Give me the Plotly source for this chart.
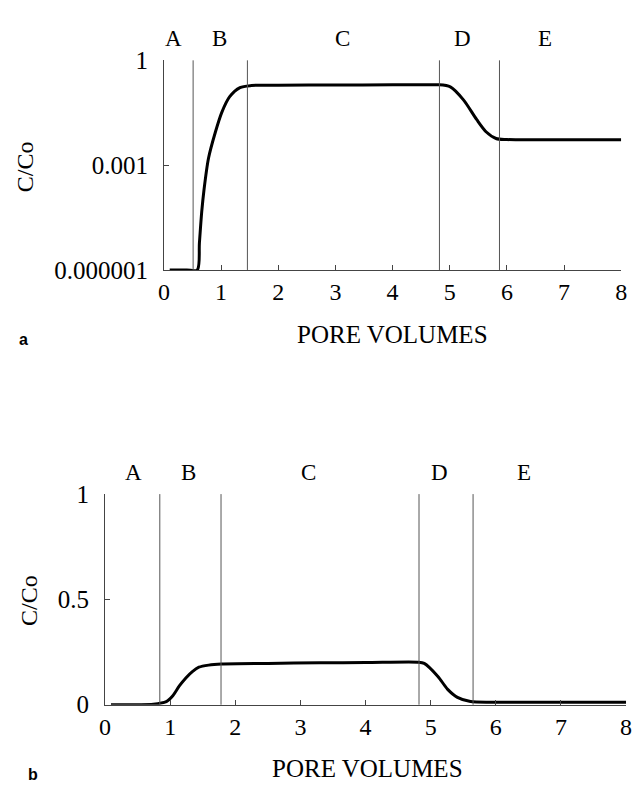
import plotly.graph_objects as go

# ---- data: panel a (log scale) ----
a_x = [0.1, 0.4, 0.583, 0.62, 0.66, 0.70, 0.78, 0.90, 1.01, 1.15, 1.33, 1.53, 2.0, 3.0, 4.0, 4.6, 4.79, 5.01, 5.24, 5.47, 5.64, 5.81, 6.0, 7.0, 8.0]
a_y = [1e-6, 1e-6, 1e-6, 6.0e-6, 4.5e-5, 1.95e-4, 1.6e-3, 8.9e-3, 3.2e-2, 9.1e-2, 0.166, 0.19, 0.195, 0.197, 0.199, 0.2, 0.2, 0.174, 0.074, 0.0204, 0.0089, 0.0058, 0.0054, 0.0053, 0.0053]
a_bounds = [0.51, 1.46, 4.82, 5.87]

# ---- data: panel b (linear scale) ----
b_x = [0.09, 0.5, 0.74, 0.94, 1.04, 1.14, 1.24, 1.34, 1.44, 1.59, 1.79, 2.5, 3.3, 4.0, 4.8, 4.9, 5.11, 5.26, 5.41, 5.61, 6.0, 7.0, 8.0]
b_y = [0.0, 0.0, 0.002, 0.015, 0.043, 0.089, 0.127, 0.157, 0.178, 0.188, 0.193, 0.196, 0.199, 0.2, 0.202, 0.196, 0.134, 0.073, 0.035, 0.015, 0.012, 0.012, 0.012]
b_bounds = [0.84, 1.78, 4.82, 5.65]

zone_labels = ["A", "B", "C", "D", "E"]
a_label_x = [0.17, 0.97, 3.12, 5.23, 6.66]
b_label_x = [0.44, 1.28, 3.12, 5.13, 6.43]

x_ticks = [0, 1, 2, 3, 4, 5, 6, 7, 8]
a_y_ticks = [1e-6, 1e-3, 1]
a_y_ticktext = ["0.000001", "0.001", "1"]
b_y_ticks = [0, 0.5, 1]
b_y_ticktext = ["0", "0.5", "1"]

W, H = 638, 796
SERIF = "Liberation Serif, Times New Roman, serif"
SANS = "Liberation Sans, Arial, sans-serif"

def px_x(p):
    return p / W

def px_y(p):
    return 1 - p / H

fig = go.Figure()
fig.add_trace(go.Scatter(x=a_x, y=a_y, mode="lines", line=dict(color="black", width=3, shape="spline", smoothing=0.8),
                         xaxis="x", yaxis="y", showlegend=False))
fig.add_trace(go.Scatter(x=b_x, y=b_y, mode="lines", line=dict(color="black", width=3, shape="spline", smoothing=0.8),
                         xaxis="x2", yaxis="y2", showlegend=False))

shapes = []
for bx in a_bounds:
    shapes.append(dict(type="line", xref="x", yref="y domain", x0=bx, x1=bx, y0=0, y1=1,
                       line=dict(color="#555", width=1)))
for bx in b_bounds:
    shapes.append(dict(type="line", xref="x2", yref="y2 domain", x0=bx, x1=bx, y0=0, y1=1,
                       line=dict(color="#555", width=1)))

def ann(text, x, y, xref="paper", size=24, family=SERIF, angle=0):
    return dict(text=text, x=x, y=y, xref=xref, yref="paper", showarrow=False, textangle=angle,
                xanchor="center", yanchor="middle", font=dict(family=family, size=size, color="black"))

annotations = []
for lab, lx in zip(zone_labels, a_label_x):
    annotations.append(ann(lab, lx, px_y(26), xref="x", size=23))
for lab, lx in zip(zone_labels, b_label_x):
    annotations.append(ann(lab, lx, px_y(476), xref="x2", size=23))
annotations += [
    ann("PORE VOLUMES", px_x(394), px_y(333), size=25),
    ann("PORE VOLUMES", px_x(368), px_y(782), size=25),
    ann("C/Co", px_x(19), px_y(159), size=24, angle=-90),
    ann("C/Co", px_x(24), px_y(608), size=24, angle=-90),
    ann("<b>a</b>", px_x(18), px_y(338), size=16, family=SANS),
    ann("<b>b</b>", px_x(28), px_y(788), size=16, family=SANS),
]

axis_common = dict(showgrid=False, zeroline=False, showline=True, linecolor="#444", linewidth=1,
                   ticks="inside", ticklen=5, tickcolor="#444")
xfont = dict(family=SERIF, size=24, color="black")
yfont = dict(family=SERIF, size=25, color="black")

fig.update_layout(
    width=W, height=H, paper_bgcolor="white", plot_bgcolor="white",
    margin=dict(l=0, r=0, t=0, b=0),
    xaxis=dict(domain=[px_x(161), px_x(627)], range=[0, 8], tickvals=x_ticks, anchor="y", ticklabelstandoff=0,
               tickfont=xfont, **axis_common),
    yaxis=dict(domain=[px_y(266), px_y(49)], type="log", range=[-6, 0], tickvals=a_y_ticks, ticktext=a_y_ticktext,
               anchor="x", ticklabelstandoff=10, tickfont=yfont, **axis_common),
    xaxis2=dict(domain=[px_x(101), px_x(632)], range=[0, 8], tickvals=x_ticks, anchor="y2", ticklabelstandoff=0,
                tickfont=xfont, **axis_common),
    yaxis2=dict(domain=[px_y(716), px_y(498)], range=[0, 1], tickvals=b_y_ticks, ticktext=b_y_ticktext,
                anchor="x2", ticklabelstandoff=10, tickfont=yfont, **axis_common),
    shapes=shapes, annotations=annotations,
)

fig.write_html("out.html")
